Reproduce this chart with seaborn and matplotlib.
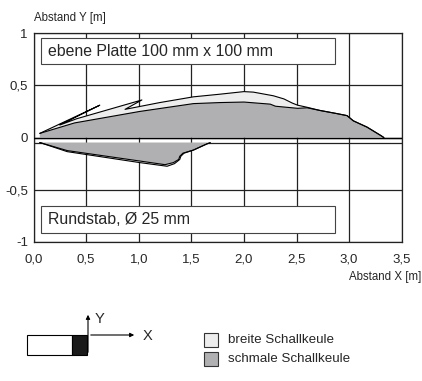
import matplotlib
matplotlib.use("Agg")
import matplotlib.pyplot as plt
from matplotlib.patches import Rectangle, FancyArrowPatch
import seaborn as sns

# upper lobe (ebene Platte), wide beam outline incl. zigzag spikes
breit_oben_x = [0.06, 0.63, 0.25, 0.41, 1.03, 0.87, 1.20, 1.52, 1.77, 2.00, 2.09,
                2.28, 2.38, 2.46, 2.51, 2.60, 2.72, 2.88, 2.98, 3.04, 3.17, 3.30, 3.33]
breit_oben_y = [0.04, 0.31, 0.12, 0.18, 0.36, 0.27, 0.335, 0.39, 0.415, 0.44, 0.435,
                0.40, 0.37, 0.33, 0.31, 0.29, 0.26, 0.23, 0.21, 0.16, 0.10, 0.02, 0.0]
# narrow beam upper
schmal_oben_x = [0.06, 0.39, 1.01, 1.52, 1.77, 2.00, 2.25, 2.30, 2.51, 2.60, 2.72, 2.88,
                 2.98, 3.04, 3.17, 3.30, 3.33]
schmal_oben_y = [0.04, 0.14, 0.25, 0.325, 0.335, 0.34, 0.32, 0.30, 0.28, 0.285, 0.26,
                 0.23, 0.21, 0.16, 0.10, 0.02, 0.0]

# lower lobe (Rundstab), baseline at -0.05
basis_unten = -0.05
breit_unten_x = [0.06, 0.32, 1.01, 1.27, 1.34, 1.39, 1.40, 1.43, 1.52, 1.65, 1.68]
breit_unten_y = [-0.048, -0.135, -0.24, -0.275, -0.25, -0.21, -0.18, -0.15, -0.12, -0.06, -0.05]
schmal_unten_x = [0.06, 0.32, 1.01, 1.25, 1.33, 1.38, 1.39, 1.42, 1.52, 1.65, 1.68]
schmal_unten_y = [-0.048, -0.125, -0.225, -0.26, -0.24, -0.21, -0.18, -0.15, -0.12, -0.06, -0.05]

x_ticks = [0.0, 0.5, 1.0, 1.5, 2.0, 2.5, 3.0, 3.5]
y_ticks = [-1, -0.5, 0, 0.5, 1]
x_labels = ["0,0", "0,5", "1,0", "1,5", "2,0", "2,5", "3,0", "3,5"]
y_labels = ["-1", "-0,5", "0", "0,5", "1"]

hell = "#ededed"
dunkel = "#b0b0b3"

sns.set_style("white")
plt.rcParams["font.family"] = ["Liberation Sans", "DejaVu Sans"]

fig = plt.figure(figsize=(4.22, 3.81), dpi=100)
ax = fig.add_axes([0.0794, 0.365, 0.8726, 0.548])


def lobe(xs, ys, base, color):
    px = list(xs) + [xs[-1], xs[0]]
    py = list(ys) + [base, base]
    ax.fill(px, py, facecolor=color, edgecolor="none", zorder=2)
    sns.lineplot(x=xs, y=ys, sort=False, estimator=None, color="black",
                 linewidth=0.8, ax=ax, zorder=3)


lobe(breit_oben_x, breit_oben_y, 0, hell)
lobe(schmal_oben_x, schmal_oben_y, 0, dunkel)
lobe(breit_unten_x, breit_unten_y, basis_unten, hell)
lobe(schmal_unten_x, schmal_unten_y, basis_unten, dunkel)

ax.set_xlim(0, 3.5)
ax.set_ylim(-1, 1)
ax.set_xticks(x_ticks)
ax.set_xticklabels(x_labels, fontsize=9.5)
ax.set_yticks(y_ticks)
ax.set_yticklabels(y_labels, fontsize=9.5)
ax.tick_params(axis="x", length=0, pad=8)
ax.tick_params(axis="y", length=0, pad=4)
ax.grid(True, color="#222222", linewidth=0.9)
ax.axhline(basis_unten, color="#222222", linewidth=0.9, zorder=1)
ax.axhline(0, color="black", linewidth=1.0, zorder=4)
for s in ax.spines.values():
    s.set_color("#222222")
    s.set_linewidth(0.9)

for y0, txt in [(0.70, "ebene Platte 100 mm x 100 mm"), (-0.91, "Rundstab, Ø 25 mm")]:
    ax.add_patch(Rectangle((0.07, y0), 2.80, 0.25, facecolor="white",
                           edgecolor="#444444", linewidth=0.8, zorder=5))
    ax.text(0.135, y0 + 0.125, txt, fontsize=11.4, va="center", ha="left", zorder=6)

fig.text(34 / 422, 1 - 18 / 381, "Abstand Y [m]", fontsize=8.3, va="center", ha="left")
fig.text(421 / 422, 1 - 277 / 381, "Abstand X [m]", fontsize=8.3, va="center", ha="right")

# schematic of sensor
fig.patches.append(Rectangle((27 / 422, 1 - 355 / 381), 45 / 422, 20 / 381,
                             transform=fig.transFigure, facecolor="white",
                             edgecolor="black", linewidth=0.8))
fig.patches.append(Rectangle((72 / 422, 1 - 355 / 381), 15 / 422, 20 / 381,
                             transform=fig.transFigure, facecolor="#1a1a1a",
                             edgecolor="black", linewidth=0.8))
fig.add_artist(FancyArrowPatch(
    (88 / 422, 1 - 355 / 381), (88 / 422, 1 - 312 / 381), transform=fig.transFigure,
    arrowstyle="-|>", mutation_scale=6, color="black", linewidth=0.8))
fig.add_artist(FancyArrowPatch(
    (88 / 422, 1 - 335 / 381), (137 / 422, 1 - 335 / 381), transform=fig.transFigure,
    arrowstyle="-|>", mutation_scale=6, color="black", linewidth=0.8))
fig.text(95 / 422, 1 - 319 / 381, "Y", fontsize=10.5, va="center", ha="left")
fig.text(143 / 422, 1 - 336 / 381, "X", fontsize=10.5, va="center", ha="left")

# legend
for yy, col, txt in [(340, hell, "breite Schallkeule"), (359, dunkel, "schmale Schallkeule")]:
    fig.patches.append(Rectangle((204 / 422, 1 - (yy + 7) / 381), 14 / 422, 14 / 381,
                                 transform=fig.transFigure, facecolor=col,
                                 edgecolor="#333333", linewidth=0.8))
    fig.text(228 / 422, 1 - yy / 381, txt, fontsize=9.6, va="center", ha="left")

fig.savefig("out.png", dpi=100)
